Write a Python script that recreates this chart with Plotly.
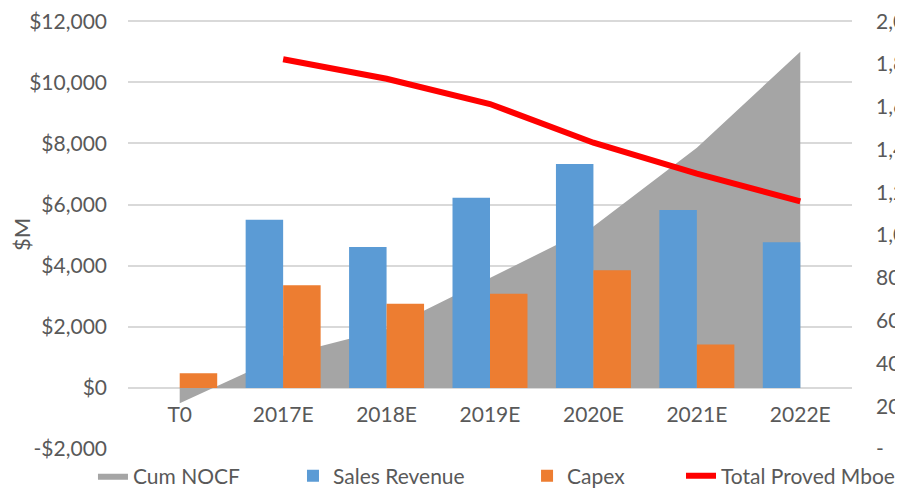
import plotly.graph_objects as go

categories = ["T0", "2017E", "2018E", "2019E", "2020E", "2021E", "2022E"]
cum_nocf = [-500, 1050, 1920, 3590, 5280, 7860, 11000]
sales_revenue = [0, 5500, 4610, 6220, 7330, 5820, 4770]
capex = [480, 3360, 2750, 3080, 3850, 1420, 0]
proved_mboe = [None, 1822, 1731, 1613, 1432, 1287, 1158]

left_ticks = [-2000, 0, 2000, 4000, 6000, 8000, 10000, 12000]
left_labels = ["-$2,000", "$0", "$2,000", "$4,000", "$6,000", "$8,000", "$10,000", "$12,000"]
right_ticks = [0, 200, 400, 600, 800, 1000, 1200, 1400, 1600, 1800, 2000]
right_labels = ["-", "200", "400", "600", "800", "1,000", "1,200", "1,400", "1,600", "1,800", "2,000"]

FONT = "Lato"
TXT = "#595959"

fig = go.Figure()
fig.add_trace(go.Scatter(
    x=categories, y=cum_nocf, name="Cum NOCF", mode="lines",
    fill="tozeroy", fillcolor="#A5A5A5", line=dict(width=0, color="#A5A5A5"),
    zorder=-1, legend="legend",
))
fig.add_trace(go.Bar(x=categories, y=sales_revenue, name="Sales Revenue",
                     marker=dict(color="#5B9BD5", line=dict(width=0)), legend="legend2"))
fig.add_trace(go.Bar(x=categories, y=capex, name="Capex",
                     marker=dict(color="#ED7D31", line=dict(width=0)), legend="legend3"))
fig.add_trace(go.Scatter(
    x=categories, y=proved_mboe, name="Total Proved Mboe", mode="lines",
    line=dict(color="#FF0000", width=6), yaxis="y2", zorder=1, legend="legend4",
))


def leg(x):
    return dict(orientation="h", xref="container", yref="container",
                x=x, xanchor="left", y=0.041, yanchor="middle",
                font=dict(family=FONT, size=21, color=TXT),
                itemwidth=30, bgcolor="rgba(0,0,0,0)")


fig.update_layout(
    width=903, height=488,
    margin=dict(l=120, r=59, t=12, b=47, autoexpand=False),
    paper_bgcolor="white", plot_bgcolor="white",
    font=dict(family=FONT, size=21, color=TXT),
    barmode="group", bargap=0.275, bargroupgap=0,
    showlegend=True,
    legend=leg(0.0941), legend2=leg(0.3156), legend3=leg(0.5748), legend4=leg(0.7453),
    xaxis=dict(
        type="category", anchor="free", position=(0 - (-2000)) / 14040,
        showgrid=False, showline=False, zeroline=False, automargin=False,
        ticks="", ticklabelstandoff=12,
        tickfont=dict(family=FONT, size=21, color=TXT),
    ),
    yaxis=dict(
        range=[-2000, 12040], tickvals=left_ticks, ticktext=left_labels,
        showgrid=True, gridcolor="#D9D9D9", gridwidth=1.5,
        zeroline=True, zerolinecolor="#D9D9D9", zerolinewidth=1.5,
        showline=False, ticks="", ticklabelstandoff=20, automargin=False,
        ticklabeloverflow="allow",
        tickfont=dict(family=FONT, size=21, color=TXT),
        title=dict(text="$M", standoff=0, font=dict(family=FONT, size=22, color=TXT)),
    ),
    yaxis2=dict(
        range=[0, 2000 * 14040 / 14000], tickvals=right_ticks, ticktext=right_labels,
        overlaying="y", side="right", showgrid=False, zeroline=False,
        showline=False, ticks="", ticklabelstandoff=23, automargin=False,
        ticklabeloverflow="allow",
        tickfont=dict(family=FONT, size=21, color=TXT),
    ),
)

fig.write_html("out.html")
